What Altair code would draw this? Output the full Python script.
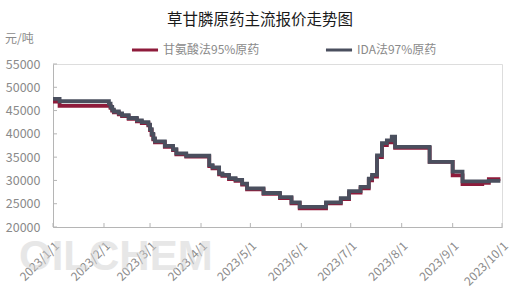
import altair as alt
import pandas as pd

title_text = "草甘膦原药主流报价走势图"
unit_text = "元/吨"
watermark_text = "OILCHEM"
series_names = ["甘氨酸法95%原药", "IDA法97%原药"]
series_colors = ["#8E1B3B", "#4A4F5E"]

# IDA法97%原药 (grey) - step changes
ida_dates = ["2023/01/01", "2023/01/05", "2023/02/04", "2023/02/05", "2023/02/06", "2023/02/07",
             "2023/02/10", "2023/02/12", "2023/02/16", "2023/02/21", "2023/02/24", "2023/02/28",
             "2023/03/01", "2023/03/02", "2023/03/03", "2023/03/04", "2023/03/10", "2023/03/15",
             "2023/03/17", "2023/03/23", "2023/04/06", "2023/04/08", "2023/04/12", "2023/04/14",
             "2023/04/18", "2023/04/22", "2023/04/26", "2023/04/29", "2023/05/09", "2023/05/19",
             "2023/05/26", "2023/05/31", "2023/06/16", "2023/06/25", "2023/06/30", "2023/07/07",
             "2023/07/12", "2023/07/14", "2023/07/17", "2023/07/20", "2023/07/23", "2023/07/26",
             "2023/07/28", "2023/08/18", "2023/09/01", "2023/09/07", "2023/09/23", "2023/09/30"]
ida_values = [47500, 47000, 46500, 45800, 45200, 44800,
              44400, 44000, 43400, 42900, 42500, 42000,
              41000, 40000, 39000, 38400, 37400, 36700,
              35800, 35300, 33300, 32800, 31500, 31200,
              30500, 30100, 29300, 28300, 27300, 26400,
              25300, 24300, 25300, 26200, 27700, 28600,
              30400, 31200, 35400, 38000, 38600, 39400,
              37200, 34000, 31900, 29800, 29900, 29900]

# 甘氨酸法95%原药 (red) - step changes
gly_dates = ["2023/01/01", "2023/01/05", "2023/02/05", "2023/02/06", "2023/02/07", "2023/02/10",
             "2023/02/12", "2023/02/16", "2023/02/21", "2023/02/24", "2023/02/28", "2023/03/01",
             "2023/03/02", "2023/03/03", "2023/03/04", "2023/03/10", "2023/03/15", "2023/03/17",
             "2023/03/23", "2023/04/06", "2023/04/08", "2023/04/12", "2023/04/14", "2023/04/18",
             "2023/04/22", "2023/04/26", "2023/04/29", "2023/05/09", "2023/05/19", "2023/05/26",
             "2023/05/31", "2023/06/16", "2023/06/25", "2023/06/30", "2023/07/07", "2023/07/12",
             "2023/07/14", "2023/07/17", "2023/07/20", "2023/07/23", "2023/07/26", "2023/07/28",
             "2023/08/18", "2023/09/01", "2023/09/07", "2023/09/19", "2023/09/23", "2023/09/30"]
gly_values = [46900, 46000, 45600, 45000, 44600, 44200,
              43800, 43200, 42700, 42300, 41800, 40800,
              39800, 38800, 38200, 37200, 36500, 35600,
              35100, 33100, 32600, 31300, 31000, 30300,
              29900, 29100, 28100, 27100, 26200, 25100,
              24000, 25100, 26000, 27400, 28300, 30000,
              30800, 35000, 37600, 38200, 39000, 37000,
              34000, 31100, 29200, 29500, 30300, 30300]

y_ticks = [20000, 25000, 30000, 35000, 40000, 45000, 50000, 55000]
month_ticks = ["2023/01/01", "2023/02/01", "2023/03/01", "2023/04/01", "2023/05/01",
               "2023/06/01", "2023/07/01", "2023/08/01", "2023/09/01", "2023/10/01"]

W, H = 449, 163
FONT = "Noto Sans CJK SC"

df = pd.concat([
    pd.DataFrame({"date": gly_dates, "price": gly_values, "series": series_names[0]}),
    pd.DataFrame({"date": ida_dates, "price": ida_values, "series": series_names[1]}),
], ignore_index=True)

x_scale = alt.Scale(domain=[alt.DateTime(year=2023, month=1, date=1),
                            alt.DateTime(year=2023, month=10, date=1)], nice=False)
y_scale = alt.Scale(domain=[20000, 55000], nice=False, zero=False)

x_axis = alt.Axis(values=[alt.DateTime(year=2023, month=m, date=1) for m in range(1, 11)],
                  format="%Y/%-m/%-d", labelAngle=-45, labelColor="#8a8a8a",
                  labelFontSize=12, labelFont=FONT, ticks=False, grid=False,
                  domainColor="#b5b5b5", labelPadding=13, title=None, labelOverlap=False,
                  labelFlush=False, labelBound=False)
y_axis = alt.Axis(values=y_ticks, labelColor="#8a8a8a", labelFontSize=12.5, labelFont=FONT,
                  ticks=False, grid=False, domainColor="#b5b5b5", labelPadding=13,
                  title=None, format="d", labelOverlap=False, labelFlush=False,
                  labelBound=False)

color = alt.Color("series:N", scale=alt.Scale(domain=series_names, range=series_colors),
                  legend=alt.Legend(title=None, orient="none", legendX=77, legendY=-29,
                                    direction="horizontal", symbolType="stroke",
                                    symbolStrokeWidth=3, symbolSize=680,
                                    labelFontSize=12, labelFont=FONT, labelColor="#8a8a8a",
                                    columnPadding=59, labelOffset=3))

base = alt.Chart(df)

def line_layer(name):
    return base.transform_filter(alt.datum.series == name).mark_line(
        interpolate="step-after", strokeWidth=3.8
    ).encode(
        x=alt.X("date:T", scale=x_scale, axis=x_axis),
        y=alt.Y("price:Q", scale=y_scale, axis=y_axis),
        color=color,
    )

red_line = line_layer(series_names[0])
grey_line = line_layer(series_names[1])

month_df = pd.DataFrame({"date": month_ticks})
x_tick_rules = alt.Chart(month_df).mark_rule(color="#b5b5b5", strokeWidth=1).encode(
    x=alt.X("date:T", scale=x_scale, axis=x_axis), y=alt.value(H), y2=alt.value(H - 4)
)
ytick_df = pd.DataFrame({"v": y_ticks})
y_tick_rules = alt.Chart(ytick_df).mark_rule(color="#b5b5b5", strokeWidth=1).encode(
    y=alt.Y("v:Q", scale=y_scale, axis=y_axis), x=alt.value(0), x2=alt.value(4)
)

wm = alt.Chart(pd.DataFrame({"t": [watermark_text]})).mark_text(
    font="Liberation Sans", fontWeight="bold", fontSize=42, color="#d0d0d0", opacity=0.5,
    align="left", baseline="middle"
).encode(text="t:N", x=alt.value(-34), y=alt.value(193))

title = alt.Chart(pd.DataFrame({"t": [title_text]})).mark_text(
    font=FONT, fontSize=15.5, color="#1a1a1a", align="center", baseline="middle"
).encode(text="t:N", x=alt.value(207), y=alt.value(-44))

unit = alt.Chart(pd.DataFrame({"t": [unit_text]})).mark_text(
    font=FONT, fontSize=12, color="#8a8a8a", align="left", baseline="middle"
).encode(text="t:N", x=alt.value(-48), y=alt.value(-25))

chart = alt.layer(
    wm, red_line, grey_line, x_tick_rules, y_tick_rules, title, unit
).properties(
    width=W, height=H,
    autosize=alt.AutoSizeParams(type="none"),
    padding={"left": 53, "top": 64, "right": 20, "bottom": 68},
).configure_view(stroke=None).configure(background="white")

chart.save("out.html", embed_options={"renderer": "svg", "actions": False})
